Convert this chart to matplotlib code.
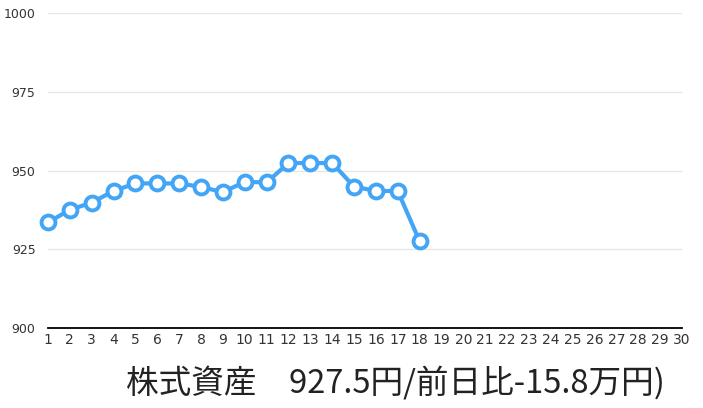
import matplotlib
matplotlib.use("Agg")
import matplotlib.pyplot as plt

# daily values (万円), days 1-18 of the month
days = list(range(1, 19))
values = [933.5, 937.5, 939.8, 943.5, 945.9, 945.9, 945.9, 944.8, 943.1,
          946.4, 946.2, 952.4, 952.4, 952.4, 944.9, 943.5, 943.5, 927.5]
xticks = list(range(1, 31))
yticks = [900, 925, 950, 975, 1000]
title = "株式資産　927.5円/前日比-15.8万円)"

fig = plt.figure(figsize=(7.03, 4.08), dpi=100)
ax = fig.add_axes([0.0683, 0.197, 0.9017, 0.770])

ax.plot(days, values, color="#42a5f5", lw=3.0, marker="o", ms=10,
        mfc="white", mec="#42a5f5", mew=2.8, clip_on=False, zorder=3)

ax.set_xlim(1, 30)
ax.set_ylim(900, 1000)
ax.set_xticks(xticks)
ax.set_yticks(yticks)
ax.set_xticklabels([str(t) for t in xticks],
                   family=["Liberation Sans Narrow", "DejaVu Sans"], fontsize=10)
ax.set_yticklabels([str(t) for t in yticks], family="DejaVu Sans",
                   fontsize=9)
ax.tick_params(axis="both", length=0, colors="#333333")
ax.tick_params(axis="y", pad=9)
ax.tick_params(axis="x", pad=4)

ax.grid(axis="y", color="#e6e6e6", lw=1)
ax.set_axisbelow(True)
for s in ["top", "right", "left"]:
    ax.spines[s].set_visible(False)
ax.spines["bottom"].set_color("black")
ax.spines["bottom"].set_linewidth(1.3)

fig.text(0.562, 0.062, title, ha="center", va="center", fontsize=23.5,
         color="#222222", family=["Noto Sans CJK JP", "DejaVu Sans"])

fig.savefig("out.png", dpi=100)
